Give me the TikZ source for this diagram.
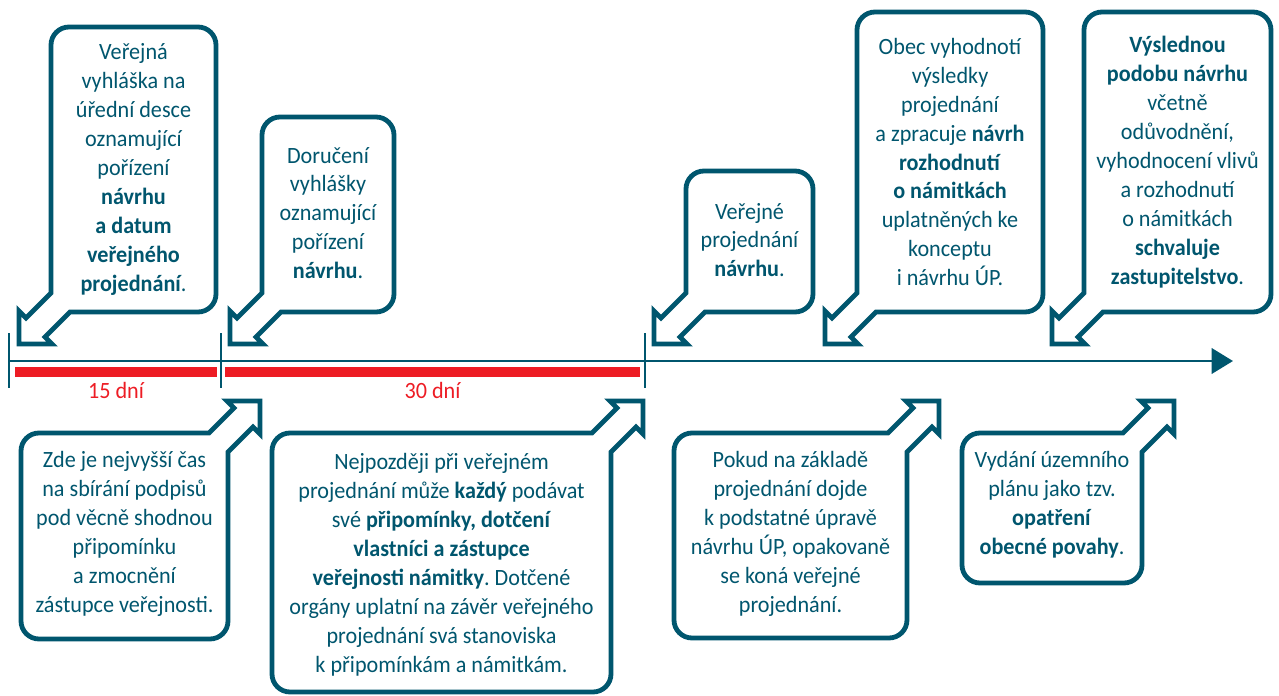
\documentclass[tikz,border=0pt]{standalone}
\usepackage{fontspec}
\setmainfont{Carlito}[FakeStretch=0.95]
\usetikzlibrary{arrows.meta}

\definecolor{petrol}{RGB}{0,86,110}
\definecolor{markred}{RGB}{237,28,36}

\tikzset{
  callout/.style={draw=petrol, line width=3.6pt, line join=miter, fill=white},
  calltext/.style={text=petrol, align=center, inner sep=0pt,
    font=\fontsize{17.5pt}{21.7pt}\selectfont\frenchspacing},
  timeline/.style={draw=petrol, line width=2pt,
    -{Triangle[length=16pt,width=19pt]}},
  tickmark/.style={draw=petrol, line width=2.2pt},
  redbar/.style={draw=markred, line width=7.5pt},
  daylabel/.style={text=markred, anchor=base, inner sep=0pt,
    font=\fontsize{17.5pt}{20pt}\selectfont},
}

% Speech box with a 45-degree block arrow leaving its lower-left corner.
% Arguments: left, top, right, bottom (y counted downwards).
\newcommand\calloutdown[4]{%
  \draw[callout] ({#1+19},{-#4}) -- ({#3-18},{-#4})
    arc[start angle=-90,end angle=0,radius=13.5pt] -- ({#3},{-#2-18})
    arc[start angle=0,end angle=90,radius=13.5pt] -- ({#1+18},{-#2})
    arc[start angle=90,end angle=180,radius=13.5pt] -- ({#1},{-#4+19})
    -- ({#1-25},{-#4-6}) -- ({#1-32},{-#4+1}) -- ({#1-32},{-#4-32})
    -- ({#1+1},{-#4-32}) -- ({#1-6},{-#4-25}) -- cycle;}

% Speech box with the arrow leaving its upper-right corner.
\newcommand\calloutup[4]{%
  \draw[callout] ({#3-19},{-#2}) -- ({#1+18},{-#2})
    arc[start angle=90,end angle=180,radius=13.5pt] -- ({#1},{-#4+18})
    arc[start angle=180,end angle=270,radius=13.5pt] -- ({#3-18},{-#4})
    arc[start angle=270,end angle=360,radius=13.5pt] -- ({#3},{-#2-19})
    -- ({#3+25},{-#2+6}) -- ({#3+32},{-#2-1}) -- ({#3+32},{-#2+32})
    -- ({#3-1},{-#2+32}) -- ({#3+6},{-#2+25}) -- cycle;}

\begin{document}
\begin{tikzpicture}[x=0.75pt, y=0.75pt]
\useasboundingbox (0,0) rectangle (1279,-696);

% ---- speech boxes above the time axis
\calloutdown{51}{27}{216}{312}
\calloutdown{262}{117}{394}{312}
\calloutdown{686}{171}{813}{312}
\calloutdown{857}{12}{1043}{312}
\calloutdown{1084}{12}{1271}{312}

% ---- speech boxes below the time axis
\calloutup{21}{433}{228}{639}
\calloutup{272}{433}{611}{692}
\calloutup{674}{433}{907}{638}
\calloutup{962}{433}{1142}{583}

% ---- texts of the upper boxes
\node[calltext] (t1) at (133.5,-169.5) {Veřejná\\vyhláška na\\úřední desce\\oznamující\\pořízení\\\textbf{návrhu}\\\textbf{a datum}\\\textbf{veřejného}\\\textbf{projednání}.};
\node[calltext] (t2) at (328,-213) {Doručení\\vyhlášky\\oznamující\\pořízení\\\textbf{návrhu}.};
\node[calltext] (t3) at (749.5,-240) {Veřejné\\projednání\\\textbf{návrhu}.};
\node[calltext] (t4) at (950,-162) {Obec vyhodnotí\\výsledky\\projednání\\a zpracuje \textbf{návrh}\\\textbf{rozhodnutí}\\\textbf{o námitkách}\\uplatněných ke\\konceptu\\i návrhu ÚP.};
\node[calltext] (t5) at (1177.5,-162) {\textbf{Výslednou}\\\textbf{podobu návrhu}\\včetně\\odůvodnění,\\vyhodnocení vlivů\\a rozhodnutí\\o námitkách\\\textbf{schvaluje}\\\textbf{zastupitelstvo}.};

% ---- texts of the lower boxes
\node[calltext] (t6) at (124.5,-534) {Zde je nejvyšší čas\\na sbírání podpisů\\pod věcně shodnou\\připomínku\\a zmocnění\\zástupce veřejnosti.};
\node[calltext] (t7) at (441.5,-565) {Nejpozději při veřejném\\projednání může \textbf{každý} podávat\\své \textbf{připomínky, dotčení}\\\textbf{vlastníci a zástupce}\\\textbf{veřejnosti námitky}. Dotčené\\orgány uplatní na závěr veřejného\\projednání svá stanoviska\\k připomínkám a námitkám.};
\node[calltext] (t8) at (790.5,-534) {Pokud na základě\\projednání dojde\\k podstatné úpravě\\návrhu ÚP, opakovaně\\se koná veřejné\\projednání.};
\node[calltext] (t9) at (1052,-505) {Vydání územního\\plánu jako tzv.\\\textbf{opatření}\\\textbf{obecné povahy}.};

% ---- time axis with period markers
\coordinate (axisstart) at (9,-361);
\coordinate (axisend) at (1233,-361);
\draw[timeline] (axisstart) -- (axisend);

\coordinate (tickAtop) at (9,-333);   \coordinate (tickAbot) at (9,-388);
\coordinate (tickBtop) at (221,-333); \coordinate (tickBbot) at (221,-388);
\coordinate (tickCtop) at (645,-333); \coordinate (tickCbot) at (645,-388);
\draw[tickmark] (tickAtop) -- (tickAbot);
\draw[tickmark] (tickBtop) -- (tickBbot);
\draw[tickmark] (tickCtop) -- (tickCbot);

\coordinate (barAs) at (15,-372);  \coordinate (barAe) at (217,-372);
\coordinate (barBs) at (225,-372); \coordinate (barBe) at (640,-372);
\draw[redbar] (barAs) -- (barAe);
\draw[redbar] (barBs) -- (barBe);

\node[daylabel] (d15) at (116,-398.5) {15 dní};
\node[daylabel] (d30) at (432.5,-398.5) {30 dní};
\end{tikzpicture}
\end{document}
